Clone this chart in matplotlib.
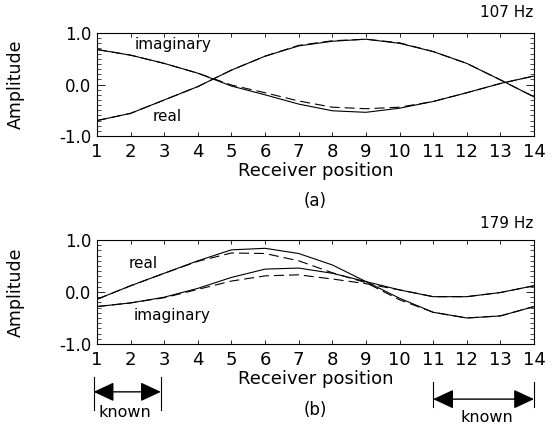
import numpy as np
import matplotlib
matplotlib.use('Agg')
from matplotlib import pyplot as plt
from matplotlib.ticker import MultipleLocator
from matplotlib.transforms import blended_transform_factory

plt.rcParams['font.family'] = ['DejaVu Sans']

pos = np.arange(1, 15)

# 107 Hz: solid = true field, dashed = reconstruction
imag_107 = [0.68, 0.57, 0.41, 0.22, -0.03, -0.20, -0.38, -0.51, -0.54, -0.46, -0.33, -0.16, 0.02, 0.165]
imag_107_est = [0.68, 0.57, 0.41, 0.22, -0.01, -0.16, -0.32, -0.44, -0.47, -0.44, -0.33, -0.16, 0.02, 0.165]
real_107 = [-0.70, -0.56, -0.30, -0.04, 0.28, 0.55, 0.75, 0.84, 0.88, 0.80, 0.64, 0.41, 0.09, -0.24]
real_107_est = [-0.70, -0.56, -0.30, -0.04, 0.28, 0.55, 0.76, 0.85, 0.88, 0.81, 0.64, 0.41, 0.09, -0.24]

# 179 Hz
real_179 = [-0.14, 0.12, 0.36, 0.60, 0.81, 0.84, 0.74, 0.52, 0.20, -0.12, -0.39, -0.50, -0.46, -0.28]
real_179_est = [-0.14, 0.12, 0.36, 0.59, 0.75, 0.74, 0.60, 0.37, 0.18, -0.15, -0.39, -0.50, -0.46, -0.28]
imag_179 = [-0.28, -0.21, -0.10, 0.07, 0.28, 0.44, 0.46, 0.36, 0.20, 0.04, -0.09, -0.09, -0.01, 0.12]
imag_179_est = [-0.28, -0.21, -0.11, 0.05, 0.21, 0.31, 0.33, 0.25, 0.16, 0.04, -0.09, -0.09, -0.01, 0.12]

DASH = (9, 4.5)


def setup(ax):
    ax.set_xlim(1, 14)
    ax.set_ylim(-1, 1)
    ax.set_xticks(pos)
    ax.set_yticks([-1, 0, 1])
    ax.set_yticklabels(['-1.0', '0.0', '1.0'])
    ax.yaxis.set_minor_locator(MultipleLocator(0.1))
    ax.tick_params(axis='x', which='major', direction='in', top=True, length=3,
                   width=0.6, labelsize=13, pad=5)
    ax.tick_params(axis='y', which='major', direction='in', right=True, length=6,
                   width=0.6, labelsize=12, pad=4)
    ax.tick_params(axis='y', which='minor', direction='in', right=True, length=3, width=0.5)
    for s in ax.spines.values():
        s.set_linewidth(0.8)
    ax.set_xlabel('Receiver position', fontsize=13, labelpad=1)
    ax.set_ylabel('Amplitude', fontsize=12.5)
    ax.yaxis.set_label_coords(-0.165, 0.5)


fig = plt.figure(figsize=(5.52, 4.30), dpi=100)
ax1 = fig.add_axes([0.1757, 0.6837, 0.7917, 0.2395])
ax2 = fig.add_axes([0.1757, 0.2000, 0.7917, 0.2419])

lw = 0.8
ax1.plot(pos, imag_107, 'k-', lw=lw)
ax1.plot(pos, imag_107_est, 'k--', lw=lw, dashes=DASH)
ax1.plot(pos, real_107, 'k-', lw=lw)
ax1.plot(pos, real_107_est, 'k--', lw=lw, dashes=DASH)
ax1.text(3.26, 0.77, 'imaginary', fontsize=11, ha='center', va='center')
ax1.text(3.1, -0.63, 'real', fontsize=11, ha='center', va='center')
setup(ax1)

ax2.plot(pos, real_179, 'k-', lw=lw)
ax2.plot(pos, real_179_est, 'k--', lw=lw, dashes=DASH)
ax2.plot(pos, imag_179, 'k-', lw=lw)
ax2.plot(pos, imag_179_est, 'k--', lw=lw, dashes=DASH)
ax2.text(2.37, 0.55, 'real', fontsize=11, ha='center', va='center')
ax2.text(3.23, -0.46, 'imaginary', fontsize=11, ha='center', va='center')
setup(ax2)

fig.text(0.966, 0.971, '107 Hz', fontsize=11, ha='right', va='center')
fig.text(0.966, 0.481, '179 Hz', fontsize=11, ha='right', va='center')
fig.text(0.571, 0.5326, '(a)', fontsize=12, ha='center', va='center')
fig.text(0.571, 0.0465, '(b)', fontsize=12, ha='center', va='center')

# known-receiver spans under the lower panel
tr = blended_transform_factory(ax2.transData, ax2.transAxes)
known = [(0.9, 2.9, -0.46, -0.32, -0.63, 1.83, -0.66),
         (11.0, 14.0, -0.53, -0.37, -0.61, 12.6, -0.71)]
for x0, x1, ya, yb0, yb1, xt, yt in known:
    ax2.annotate('', xy=(x1, ya), xytext=(x0, ya), xycoords=tr, textcoords=tr,
                 arrowprops=dict(arrowstyle='<|-|>,head_length=0.9,head_width=0.42',
                                 fc='k', ec='k', lw=1.0, shrinkA=0, shrinkB=0,
                                 mutation_scale=14), annotation_clip=False)
    for xb in (x0, x1):
        ax2.plot([xb, xb], [yb0, yb1], color='k', lw=0.8, transform=tr, clip_on=False)
    ax2.text(xt, yt, 'known', fontsize=11.5, ha='center', va='center', transform=tr)

fig.savefig('out.png', dpi=100)
